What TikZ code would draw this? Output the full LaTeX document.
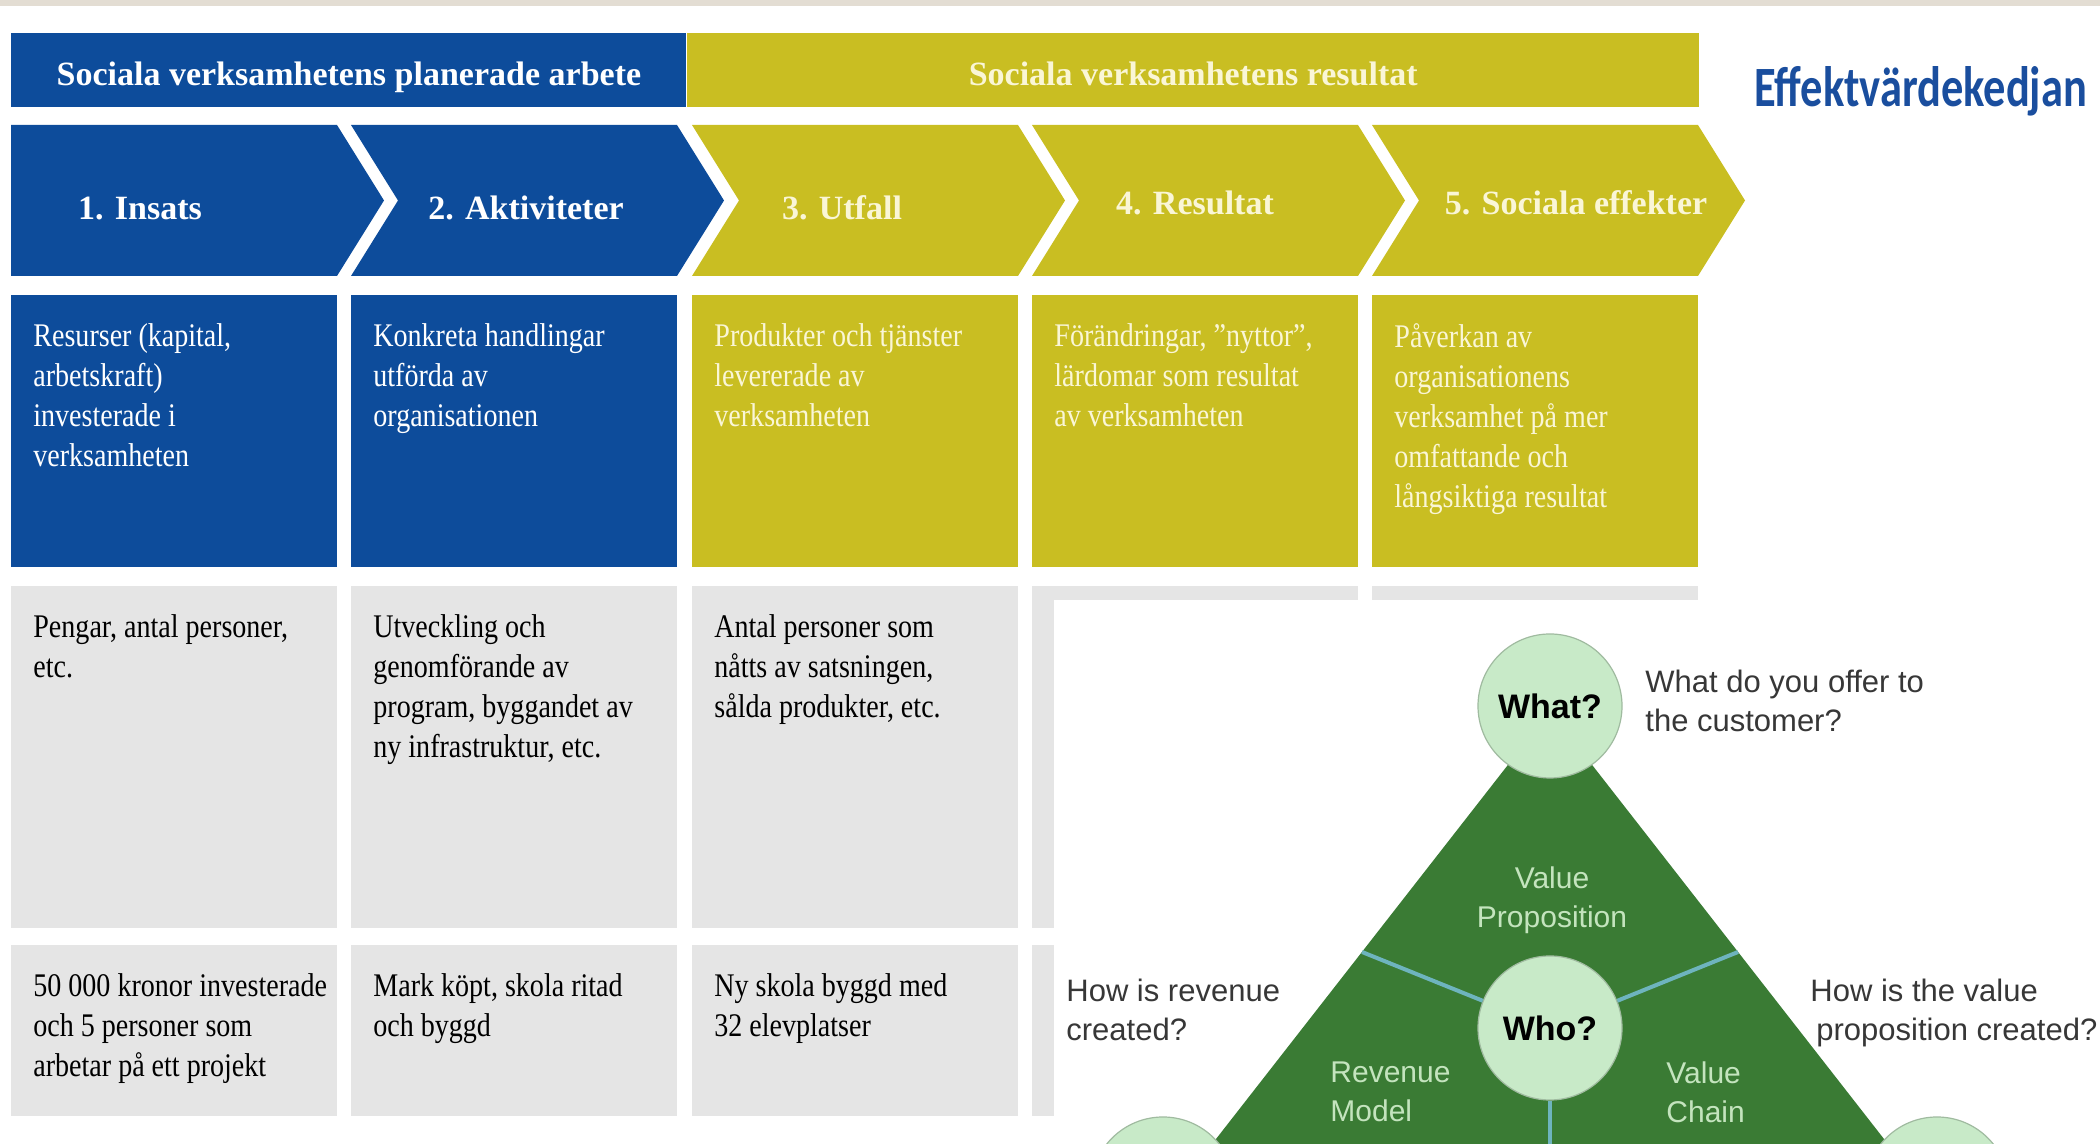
\documentclass[tikz,border=0pt]{standalone}
\usepackage{fontspec}
\setmainfont{Liberation Serif}
\setsansfont{Liberation Sans}
\newfontfamily\narrowserif{Liberation Serif}[FakeStretch=0.85]
\newfontfamily\titlefont{Carlito}[FakeStretch=0.78]
\usepackage{tikz}
\usetikzlibrary{positioning}
\definecolor{planblue}{RGB}{13,76,155}
\definecolor{resyellow}{RGB}{201,190,34}
\definecolor{cream}{RGB}{250,246,214}
\definecolor{boxgray}{RGB}{229,229,229}
\definecolor{topbeige}{RGB}{227,221,211}
\definecolor{titleblue}{RGB}{26,78,158}
\definecolor{bmgreen}{RGB}{58,123,52}
\definecolor{bubblegreen}{RGB}{200,234,200}
\definecolor{partgreen}{RGB}{196,228,190}
\definecolor{septeal}{RGB}{110,180,190}
\definecolor{qgray}{RGB}{55,55,55}
\tikzset{
bar/.style={anchor=north west, inner sep=0pt, minimum height=37pt, text height=26pt, text depth=11pt, font=\bfseries\fontsize{17}{20}\selectfont}, % header bars
chevlab/.style={anchor=base, inner sep=0pt, font=\bfseries\fontsize{17}{20}\selectfont},
panel/.style={anchor=north west, inner sep=0pt, minimum width=163pt}, % one column is 326px wide
descbox/.style={panel, minimum height=136pt},
graybox/.style={panel, fill=boxgray, minimum height=171pt},
exbox/.style={panel, fill=boxgray, minimum height=85.5pt},
txt/.style={align=left, inner sep=0pt, font=\narrowserif\fontsize{16.5}{20}\selectfont, execute at begin node=\strut},
bubble/.style={circle, fill=bubblegreen, draw=bubblegreen!80!black, line width=0.6pt, minimum size=72pt, inner sep=0pt, font=\sffamily\bfseries\fontsize{17}{20}\selectfont},
part/.style={inner sep=0pt, text=partgreen, font=\sffamily\fontsize{15}{19.5}\selectfont, execute at begin node=\strut},
question/.style={anchor=north west, align=left, inner sep=0pt, text=qgray, font=\sffamily\fontsize{15.5}{19.5}\selectfont, execute at begin node=\strut},
sepline/.style={draw=septeal, line width=2pt},
}

\begin{document}
\begin{tikzpicture}[x=0.5pt,y=0.5pt]
    \useasboundingbox (0,0) rectangle (2100,1144);
    \clip (0,0) rectangle (2100,1144);
    \fill[topbeige] (0,1138) rectangle (2100,1144);

    % headers
    \node[bar, fill=planblue, text=white, minimum width=337.5pt] (hplan) at (11,1111) {Sociala verksamhetens planerade arbete};
    \node[bar, fill=resyellow, text=cream, minimum width=506pt] (hres) at (hplan.north east) {Sociala verksamhetens resultat};
    \node[anchor=base west, inner sep=0pt, text=titleblue, font=\titlefont\bfseries\fontsize{28.5}{30}\selectfont] (title) at (1754,1037) {Effektvärdekedjan};

    % chevrons
    \fill[planblue] (11,1019) -- ++(326,0) -- ++(47,-75.5) -- ++(-47,-75.5) -- ++(-326,0) -- cycle;
    \fill[planblue] (351,1019) -- ++(326,0) -- ++(47,-75.5) -- ++(-47,-75.5) -- ++(-326,0) -- ++(47,75.5) -- cycle;
    \fill[resyellow] (692,1019) -- ++(326,0) -- ++(47,-75.5) -- ++(-47,-75.5) -- ++(-326,0) -- ++(47,75.5) -- cycle;
    \fill[resyellow] (1032,1019) -- ++(326,0) -- ++(47,-75.5) -- ++(-47,-75.5) -- ++(-326,0) -- ++(47,75.5) -- cycle;
    \fill[resyellow] (1372,1019) -- ++(326,0) -- ++(47,-75.5) -- ++(-47,-75.5) -- ++(-326,0) -- ++(47,75.5) -- cycle;
    \node[chevlab, text=white] (c1) at (140,924) {1. Insats};
    \node[chevlab, text=white] (c2) at (526,924) {2. Aktiviteter};
    \node[chevlab, text=cream] (c3) at (842,924) {3. Utfall};
    \node[chevlab, text=cream] (c4) at (1195,929) {4. Resultat};
    \node[chevlab, text=cream] (c5) at (1576,929) {5. Sociala effekter};

    % descriptions
    \node[descbox, fill=planblue] (d1) at (11,849) {};
    \node[descbox, fill=planblue] (d2) at (351,849) {};
    \node[descbox, fill=resyellow] (d3) at (692,849) {};
    \node[descbox, fill=resyellow] (d4) at (1032,849) {};
    \node[descbox, fill=resyellow] (d5) at (1372,849) {};
    \node[txt, text=white, below right=14pt and 11pt of d1.north west] (d1t) {Resurser (kapital,\\arbetskraft)\\investerade i\\verksamheten};
    \node[txt, text=white, below right=14pt and 11pt of d2.north west] (d2t) {Konkreta handlingar\\utförda av\\organisationen};
    \node[txt, text=cream, below right=14pt and 11pt of d3.north west] (d3t) {Produkter och tjänster\\levererade av\\verksamheten};
    \node[txt, text=cream, below right=14pt and 11pt of d4.north west] (d4t) {Förändringar, ”nyttor”,\\lärdomar som resultat\\av verksamheten};
    \node[txt, text=cream, below right=14pt and 11pt of d5.north west] (d5t) {Påverkan av\\organisationens\\verksamhet på mer\\omfattande och\\långsiktiga resultat};

    % indicators
    \node[graybox] (g1) at (11,558) {};
    \node[graybox] (g2) at (351,558) {};
    \node[graybox] (g3) at (692,558) {};
    \node[graybox] (g4) at (1032,558) {};
    \node[graybox] (g5) at (1372,558) {};
    \node[txt, below right=14pt and 11pt of g1.north west] (g1t) {Pengar, antal personer,\\etc.};
    \node[txt, below right=14pt and 11pt of g2.north west] (g2t) {Utveckling och\\genomförande av\\program, byggandet av\\ny infrastruktur, etc.};
    \node[txt, below right=14pt and 11pt of g3.north west] (g3t) {Antal personer som\\nåtts av satsningen,\\sålda produkter, etc.};

    % examples
    \node[exbox] (e1) at (11,199) {};
    \node[exbox] (e2) at (351,199) {};
    \node[exbox] (e3) at (692,199) {};
    \node[exbox] (e4) at (1032,199) {};
    \node[exbox] (e5) at (1372,199) {};
    \node[txt, below right=14pt and 11pt of e1.north west] (e1t) {50 000 kronor investerade\\och 5 personer som\\arbetar på ett projekt};
    \node[txt, below right=14pt and 11pt of e2.north west] (e2t) {Mark köpt, skola ritad\\och byggd};
    \node[txt, below right=14pt and 11pt of e3.north west] (e3t) {Ny skola byggd med\\32 elevplatser};

    % business model triangle on top
    \fill[white] (1054,0) rectangle (2100,544);
    \coordinate (apex) at (1550,433);
    \coordinate (lv) at (1177,-45);
    \coordinate (rv) at (1923,-45);
    \fill[bmgreen] (apex) -- (lv) -- (rv) -- cycle;
    \coordinate (lsep) at (1362,192);
    \coordinate (rsep) at (1738,192);
    \coordinate (bsep) at (1550,-45);
    \node[bubble] (what) at (1550,438) {What?};
    \node[bubble] (who) at (1550,116) {Who?};
    \node[bubble] (howl) at (1163,-45) {};
    \node[bubble] (howr) at (1937,-45) {};
    \draw[sepline] (who) -- (lsep);
    \draw[sepline] (who) -- (rsep);
    \draw[sepline] (who) -- (bsep);
    \node[part, anchor=north, align=center] (vprop) at (1552,278) {Value\\Proposition};
    \node[part, anchor=north west, align=left] (rmod) at (1330,83) {Revenue\\Model};
    \node[part, anchor=north west, align=left] (vchain) at (1666,83) {Value\\Chain};
    \node[question] (qwhat) at (1645,474) {What do you offer to\\the customer?};
    \node[question] (qrev) at (1066,165) {How is revenue\\created?};
    \node[question] (qval) at (1810,165) {How is the value\\\hspace*{3pt}proposition created?};
\end{tikzpicture}
\end{document}
